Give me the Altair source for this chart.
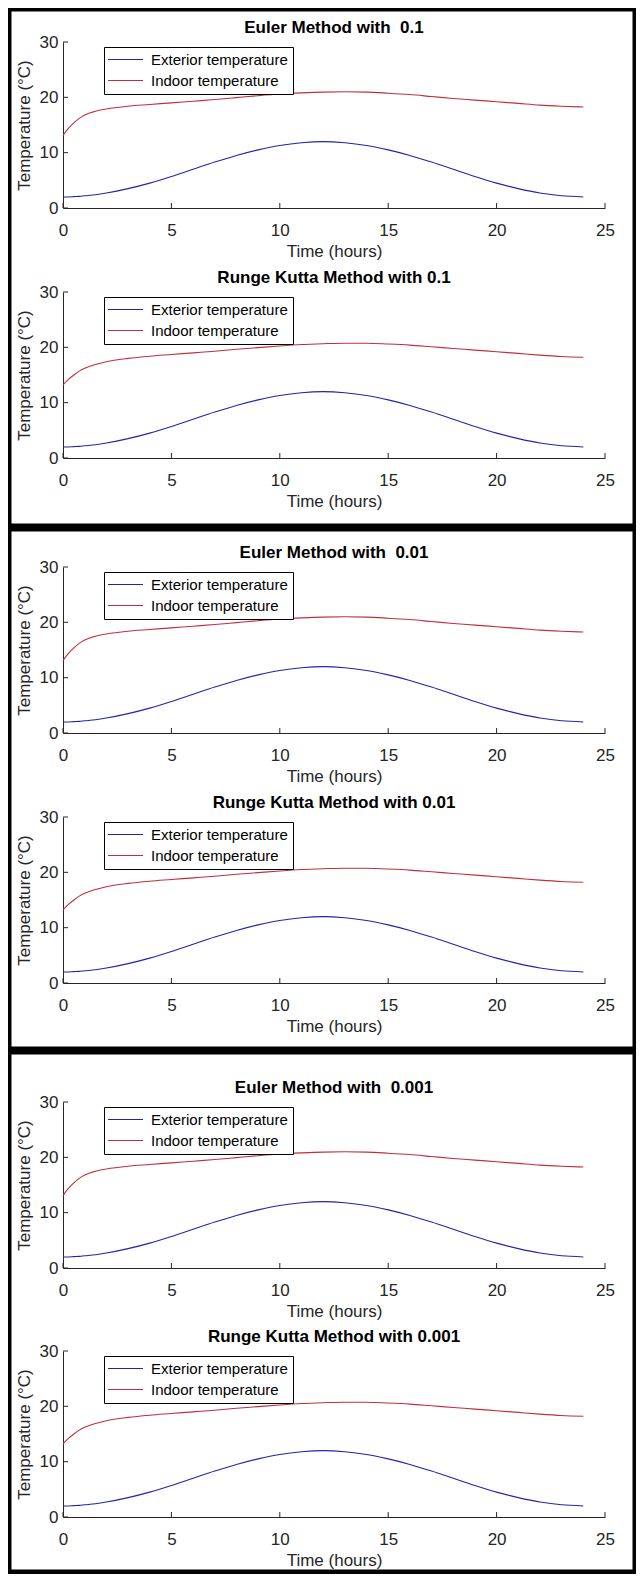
import altair as alt
import pandas as pd

# ---- data ----
HOURS = [0, 0.25, 0.5, 0.75, 1, 1.5, 2, 3, 4, 5, 6, 7, 8, 9, 10, 11, 12,
         13, 14, 15, 16, 17, 18, 19, 20, 21, 22, 23, 24]
EXTERIOR = [2.0, 2.0, 2.05, 2.1, 2.2, 2.4, 2.7, 3.5, 4.5, 5.7, 7.0, 8.3, 9.5,
            10.5, 11.3, 11.8, 12.0, 11.8, 11.3, 10.5, 9.5, 8.3, 7.0, 5.7,
            4.5, 3.5, 2.7, 2.2, 2.0]
INDOOR_EULER = [13.1, 14.4, 15.4, 16.2, 16.8, 17.5, 17.9, 18.4, 18.7, 19.0,
                19.3, 19.6, 19.95, 20.3, 20.6, 20.8, 20.95, 21.0, 20.95,
                20.75, 20.5, 20.15, 19.8, 19.5, 19.2, 18.9, 18.6, 18.4, 18.25]
INDOOR_RK = [13.2, 14.2, 15.0, 15.7, 16.2, 16.9, 17.4, 18.0, 18.4, 18.7,
             19.0, 19.3, 19.65, 19.95, 20.25, 20.5, 20.65, 20.75, 20.75,
             20.6, 20.4, 20.1, 19.8, 19.5, 19.2, 18.9, 18.6, 18.35, 18.2]
SERIES = ["Exterior temperature", "Indoor temperature"]
COLORS = ["#2424a8", "#c0303c"]
TITLES = ["Euler Method with\u00a0 0.1", "Runge Kutta Method with 0.1",
          "Euler Method with\u00a0 0.01", "Runge Kutta Method with 0.01",
          "Euler Method with\u00a0 0.001", "Runge Kutta Method with 0.001"]
METHODS = ["euler", "rk", "euler", "rk", "euler", "rk"]
X_TICKS = [0, 5, 10, 15, 20, 25]
Y_TICKS = [0, 10, 20, 30]

W, H = 542, 166
FONT = "Liberation Sans"
TXT = "#262626"

# slot (top, bottom) of each panel relative to its plot top, and borders
SLOTS = [(-34, 222), (-28, 236), (-39, 223), (-27, 234), (-51, 221), (-28, 223)]
TOP_BORDER = [True, False, True, False, True, False]
BOT_BORDER = [False, True, False, True, False, True]
LEFT, RIGHT = -55, 573
BW = 3.5


def method_df(indoor):
    rows = []
    for t, v in zip(HOURS, EXTERIOR):
        rows.append({"time": t, "temp": v, "series": SERIES[0]})
    for t, v in zip(HOURS, indoor):
        rows.append({"time": t, "temp": v, "series": SERIES[1]})
    return pd.DataFrame(rows)


DATA = {"euler": method_df(INDOOR_EULER), "rk": method_df(INDOOR_RK)}

xscale = alt.Scale(domain=[0, 25], nice=False, zero=False)
yscale = alt.Scale(domain=[0, 30], nice=False)

xaxis = alt.Axis(values=X_TICKS, ticks=False, tickSize=0, grid=False,
                 domainColor=TXT, domainWidth=1, labelFont=FONT,
                 labelFontSize=17, labelColor=TXT, labelPadding=14,
                 labelFlush=False, labelOverlap=False,
                 title="Time (hours)", titleFont=FONT, titleFontSize=17,
                 titleFontWeight="normal", titleColor=TXT, titlePadding=5)
yaxis = alt.Axis(values=Y_TICKS, ticks=False, tickSize=0, grid=False,
                 domainColor=TXT, domainWidth=1, labelFont=FONT,
                 labelFontSize=17, labelColor=TXT, labelPadding=5,
                 labelFlush=False, labelOverlap=False,
                 title="Temperature (\u00b0C)", titleFont=FONT, titleFontSize=17,
                 titleFontWeight="normal", titleColor=TXT, titlePadding=6)

X = alt.X("time:Q", scale=xscale, axis=xaxis)
Y = alt.Y("temp:Q", scale=yscale, axis=yaxis)

dummy = pd.DataFrame({"d": [0]})


def rect(x1, x2, y1, y2):
    return alt.Chart(dummy).mark_rect(color="black", clip=False).encode(
        x=alt.value(x1), x2=alt.value(x2), y=alt.value(y1), y2=alt.value(y2))


legend = alt.Legend(title=None, orient="none", legendX=41, legendY=5,
                    symbolType="M-3,0H3", symbolSize=136,
                    symbolStrokeWidth=1.2, symbolOffset=9,
                    labelFont=FONT, labelFontSize=15, labelColor="black",
                    labelOffset=18, padding=5, rowPadding=5,
                    strokeColor="black", fillColor="white", cornerRadius=0)

panels = []
for i in range(6):
    top, bot = SLOTS[i]
    lines = alt.Chart(DATA[METHODS[i]]).mark_line(
        strokeWidth=1.1, interpolate="monotone").encode(
        x=X, y=Y,
        color=alt.Color("series:N",
                        scale=alt.Scale(domain=SERIES, range=COLORS),
                        legend=legend))
    xt = alt.Chart(pd.DataFrame({"time": X_TICKS})).mark_rule(
        color=TXT, strokeWidth=1).encode(x=X, y=alt.value(H), y2=alt.value(H - 5))
    yt = alt.Chart(pd.DataFrame({"temp": Y_TICKS})).mark_rule(
        color=TXT, strokeWidth=1).encode(y=Y, x=alt.value(0), x2=alt.value(5))
    title = alt.Chart(pd.DataFrame({"label": [TITLES[i]]})).mark_text(
        font=FONT, fontSize=17, fontWeight="bold", color="black",
        align="center", baseline="middle").encode(
        text="label:N", x=alt.value(W / 2), y=alt.value(-14))
    layers = [lines, xt, yt, title,
              rect(LEFT, LEFT + BW, top, bot),
              rect(RIGHT - BW, RIGHT, top, bot)]
    if TOP_BORDER[i]:
        layers.append(rect(LEFT, RIGHT, top, top + BW))
    if BOT_BORDER[i]:
        layers.append(rect(LEFT, RIGHT, bot - BW - 1, bot))
    panels.append(alt.layer(*layers).properties(width=W, height=H))

chart = alt.vconcat(*panels, spacing=0).resolve_legend(
    color="independent").properties(padding=0, background="white").configure_view(
    strokeWidth=0)

chart.save("out.html", embed_options={"renderer": "svg", "actions": False})
